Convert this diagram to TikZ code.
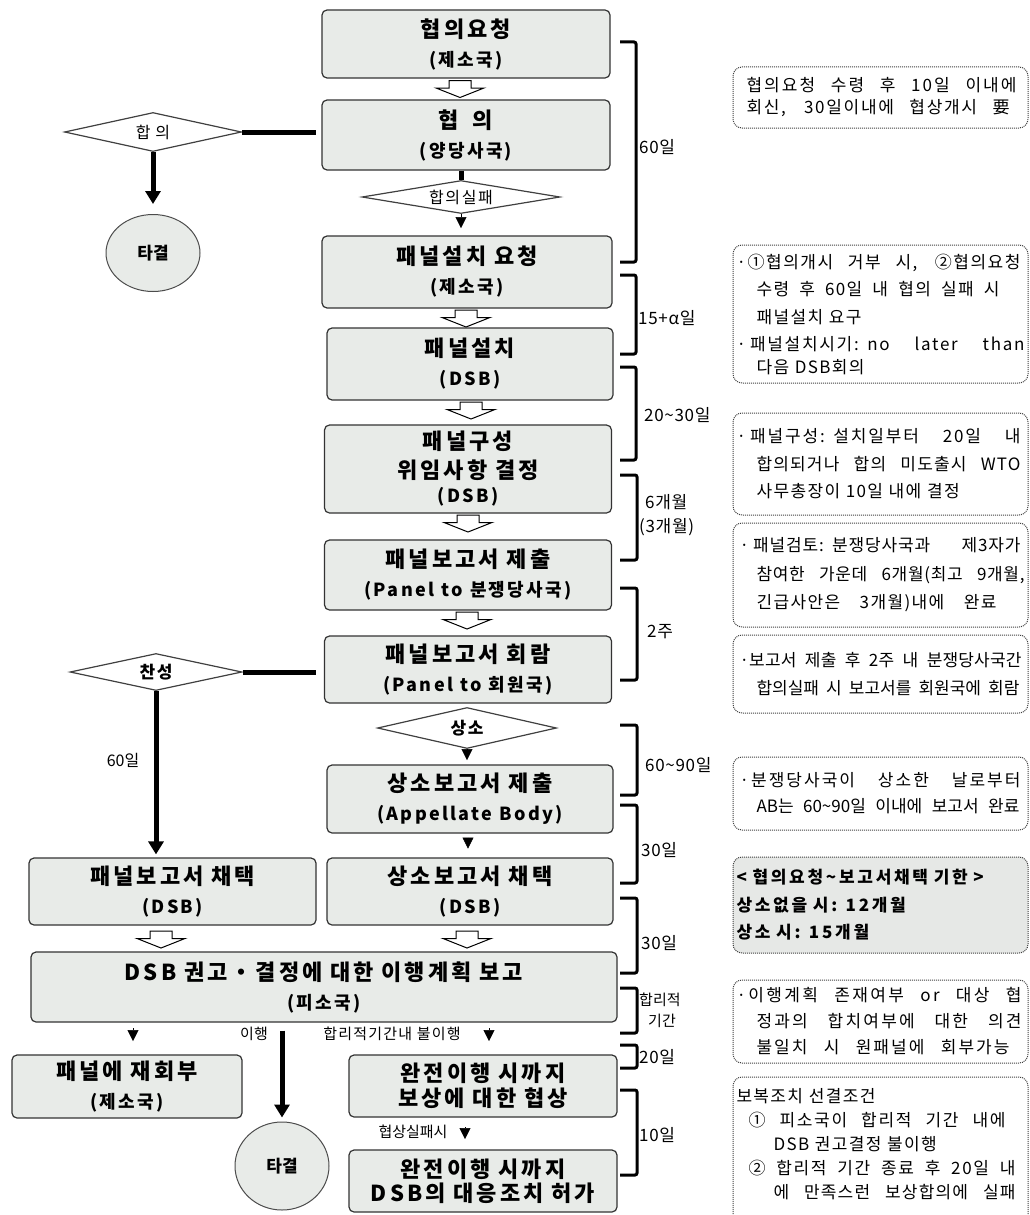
\documentclass[tikz,border=0pt]{standalone}
\usepackage{fontspec}
\setmainfont{Noto Sans CJK KR}
\usetikzlibrary{shapes.geometric,arrows.meta,calc}
\definecolor{boxgray}{HTML}{E8EBE8}
\definecolor{notegray}{HTML}{E6E8E6}
\newcommand\tf{\fontsize{22}{29}\selectfont\bfseries\addfontfeature{LetterSpace=14}\spaceskip=.35em\relax}
\newcommand\stf{\fontsize{18}{29}\selectfont\bfseries\addfontfeature{LetterSpace=13}\spaceskip=.4em\relax}
\newcommand\nfs[1]{\fontsize{17}{#1}\selectfont\addfontfeature{LetterSpace=8}}
\newcommand\nbf{\fontsize{17}{27.5}\selectfont\bfseries\addfontfeature{LetterSpace=16}\spaceskip=.35em\relax}
\newcommand\jl[4][8]{\hspace*{#2pt}\makebox[#3pt][s]{\addfontfeature{LetterSpace=#1}\spaceskip=.25em plus 1fil minus .17em\relax #4}}
\newcommand\il[2]{\hspace*{#1pt}#2}
\newcommand\bul{·\hspace{4pt}}
\begin{document}
\begin{tikzpicture}[x=1pt,y=-1pt,
 mbox/.style={draw=black!80, fill=boxgray, line width=1.2pt, rounded corners=5pt, align=center, inner sep=0pt, font=\tf},
 note/.style={draw=black!75, densely dotted, line width=1pt, rounded corners=9pt, minimum width=295pt, text width=288pt, inner sep=0pt, align=left},
 diam/.style={diamond, aspect=5, draw=black!75, line width=1.2pt, fill=white, inner sep=0pt},
 done/.style={ellipse, draw=black!70, line width=1pt, fill=boxgray, inner sep=0pt, font=\fontsize{17}{20}\selectfont\bfseries},
 thickline/.style={line width=5pt},
 thickarrow/.style={line width=5pt, -{Triangle[width=15pt,length=13pt]}},
 tri/.style={line width=0.5pt, -{Triangle[width=11pt,length=11pt]}},
 br/.style={line width=3pt, rounded corners=2pt},
 brl/.style={anchor=west, inner sep=0pt, font=\fontsize{17}{21}\selectfont\addfontfeature{LetterSpace=4}},
 lab/.style={inner sep=0pt, font=\fontsize{15}{18}\selectfont},
 oarrow/.pic={\draw[line width=1pt, fill=white, line join=miter] (-11,-8.5) -- (11,-8.5) -- (11,-1) -- (24,-1) -- (0,8.5) -- (-24,-1) -- (-11,-1) -- cycle;}
]
\useasboundingbox (0,0) rectangle (1030,1215);
\clip (0,0) rectangle (1030,1215);

% main column
\node[mbox, minimum width=288pt, minimum height=68pt] (b1) at (466,44) {협의요청\\\stf (제소국)};
\node[mbox, minimum width=288pt, minimum height=70pt] (b2) at (466,135) {협\hspace{14pt}의\\\stf (양당사국)};
\node[mbox, minimum width=290pt, minimum height=72pt] (b3) at (467,272) {패널설치 요청\\\stf (제소국)};
\node[mbox, minimum width=286pt, minimum height=72pt] (b4) at (470,364) {패널설치\\\stf (DSB)};
\node[mbox, minimum width=287pt, minimum height=88pt] (b5) at (468,469) {패널구성\\위임사항 결정\\[-5pt]\stf (DSB)};
\node[mbox, minimum width=287pt, minimum height=70pt] (b6) at (468,575) {패널보고서 제출\\\stf (Panel to 분쟁당사국)};
\node[mbox, minimum width=287pt, minimum height=67pt] (b7) at (468,669.5) {패널보고서 회람\\\stf (Panel to 회원국)};
\node[mbox, minimum width=286pt, minimum height=68pt] (b8) at (470,799) {상소보고서 제출\\\stf (Appellate Body)};
\node[mbox, minimum width=286pt, minimum height=67pt] (b9) at (470,891.5) {상소보고서 채택\\\stf (DSB)};
\node[mbox, minimum width=287pt, minimum height=67pt] (bL) at (172.5,891.5) {패널보고서 채택\\\stf (DSB)};
\node[mbox, minimum width=586pt, minimum height=70pt] (b10) at (324,987) {DSB 권고・결정에 대한 이행계획 보고\\\stf (피소국)};
\node[mbox, minimum width=230pt, minimum height=63pt] (b11) at (127,1086.5) {패널에 재회부\\\stf (제소국)};
\node[mbox, minimum width=268pt, minimum height=62pt] (b12) at (483,1086) {완전이행 시까지\\[-4pt]보상에 대한 협상};
\node[mbox, minimum width=268pt, minimum height=62pt] (b13) at (483,1181) {완전이행 시까지\\[-5pt]DSB의 대응조치 허가};

% diamonds and end circles
\node[diam, minimum width=177pt, minimum height=39pt, font=\fontsize{16}{18}\selectfont] (d1) at (153,132) {합\hspace{5pt}의};
\node[diam, aspect=6, minimum width=198pt, minimum height=33pt, font=\fontsize{16}{18}\selectfont\addfontfeature{LetterSpace=10}] (d2) at (461,197) {합의실패};
\node[diam, minimum width=172pt, minimum height=37pt, font=\fontsize{17}{20}\selectfont\bfseries\addfontfeature{LetterSpace=10}] (d3) at (156,672) {찬성};
\node[diam, minimum width=179pt, minimum height=41pt, font=\fontsize{17}{20}\selectfont\bfseries\addfontfeature{LetterSpace=10}] (d4) at (467,728) {상소};
\node[done, minimum width=94pt, minimum height=77pt] (t1) at (153,253) {타결};
\node[done, minimum width=94pt, minimum height=88pt] (t2) at (282,1166) {타결};

% open arrows
\pic at (460,89) {oarrow};
\pic at (466,318.5) {oarrow};
\pic at (471,410.5) {oarrow};
\pic at (468,523.5) {oarrow};
\pic at (467,620.5) {oarrow};
\pic at (161,939.5) {oarrow};
\pic at (467,939.5) {oarrow};

% connectors
\draw[thickline, shorten >=5pt] (d1.east) -- (b2.west |- d1.east);
\draw[thickarrow, shorten >=10pt] (d1.south) -- (t1.north);
\draw[thickline] (d2.north |- b2.south) -- (d2.north);
\draw[tri] (d2.south) -- ++(0,14);
\draw[thickline, shorten >=8pt] (d3.east) -- (b7.west |- d3.east);
\draw[thickarrow, shorten >=3pt] (d3.south) -- (d3.south |- bL.north);
\draw[tri] (d4.south) -- ++(0,11);
\draw[tri] ($(b8.south)+(-2,4)$) -- ++(0,11);
\node[lab, font=\fontsize{16}{18}\selectfont] (l0) at (123,760) {60일};

% bottom part
\draw[tri] (133,1028) -- ++(0,13);
\node[lab] (l1) at (254,1034) {이행};
\draw[thickarrow, shorten <=8pt, shorten >=4pt] (b10.south -| t2.north) -- (t2.north);
\node[lab, font=\fontsize{15}{18}\selectfont\addfontfeature{LetterSpace=8}] (l2) at (392,1034) {합리적기간내 불이행};
\draw[tri] (489,1028) -- ++(0,13);
\node[lab] (l3) at (413,1132) {협상실패시};
\draw[tri] (465,1127) -- ++(0,12);

% brackets
\draw[br] (620,42) -- (636,42) -- (636,262) -- (620,262);
\node[brl] at (639,147) {60일};
\draw[br] (620,275) -- (636,275) -- (636,354) -- (620,354);
\node[brl] at (638,318) {15+α일};
\draw[br] (620,367) -- (636,367) -- (636,460) -- (620,460);
\node[brl] at (644,415) {20\textasciitilde 30일};
\draw[br] (620,475) -- (637,475) -- (637,560) -- (620,560);
\node[brl] at (645,502) {6개월};
\node[brl] at (639,527) {(3개월)};
\draw[br] (620,588) -- (637,588) -- (637,680) -- (620,680);
\node[brl] at (647,632) {2주};
\draw[br] (620,725) -- (637,725) -- (637,795) -- (620,795);
\node[brl] at (645,765) {60\textasciitilde 90일};
\draw[br] (620,805) -- (637,805) -- (637,883) -- (620,883);
\node[brl] at (641,850) {30일};
\draw[br] (620,898) -- (637,898) -- (637,973) -- (620,973);
\node[brl] at (641,943) {30일};
\draw[br] (620,988) -- (637,988) -- (637,1033) -- (620,1033);
\node[brl, font=\fontsize{15}{18}\selectfont] at (639,1000) {합리적};
\node[brl, font=\fontsize{15}{18}\selectfont] at (648,1021) {기간};
\draw[br] (620,1045) -- (637,1045) -- (637,1068) -- (620,1068);
\node[brl] at (639,1057) {20일};
\draw[br] (620,1090) -- (637,1090) -- (637,1175) -- (620,1175);
\node[brl] at (639,1135) {10일};

% notes
\node[note, minimum height=61pt, font=\nfs{22}] (n1) at (880.5,97.5) {\jl[12]{10}{270}{협의요청 수령 후 10일 이내에}\\\jl[10]{10}{263}{회신, 30일이내에 협상개시 要}};
\node[note, minimum height=138pt, font=\nfs{27.5}] (n2) at (880.5,314) {\jl[9]{0}{284}{·①협의개시 거부 시, ②협의요청}\\\jl[8]{20}{243}{수령 후 60일 내 협의 실패 시}\\\il{20}{패널설치 요구}\\\jl[10]{0}{288}{\bul 패널설치시기: no later than}\\[-5pt]\il{20}{다음 DSB회의}};
\node[note, minimum height=102pt, font=\nfs{27.5}] (n3) at (880.5,464) {\jl[11]{0}{284}{\bul 패널구성: 설치일부터 20일 내}\\\jl[7]{20}{264}{합의되거나 합의 미도출시 WTO}\\\il{20}{사무총장이 10일 내에 결정}};
\node[note, minimum height=104pt, font=\nfs{28.5}] (n4) at (880.5,575) {\jl[5]{3}{281}{\bul 패널검토: 분쟁당사국과 제3자가}\\\jl[4]{20}{268}{참여한 가운데 6개월(최고 9개월,}\\\jl[8]{20}{240}{긴급사안은 3개월)내에 완료}};
\node[note, minimum height=78pt, font=\nfs{28}] (n5) at (880.5,674) {\jl[1]{3}{282}{·보고서 제출 후 2주 내 분쟁당사국간}\\\jl[0]{20}{263}{합의실패 시 보고서를 회원국에 회람}};
\node[note, minimum height=73pt, font=\nfs{26}] (n6) at (880.5,793.5) {\jl[12]{3}{281}{·분쟁당사국이 상소한 날로부터}\\\jl[0]{20}{263}{AB는 60\textasciitilde 90일 이내에 보고서 완료}};
\node[note, fill=notegray, minimum height=96pt, font=\nbf] (n7) at (880.5,905) {< 협의요청\textasciitilde 보고서채택 기한 >\\상소없을 시: 12개월\\상소 시: 15개월};
\node[note, minimum height=83pt, font=\nfs{26}] (n8) at (880.5,1021.5) {\jl[14]{0}{285}{·이행계획 존재여부 or 대상 협}\\\jl[13]{20}{265}{정과의 합치여부에 대한 의견}\\\jl[12]{20}{253}{불일치 시 원패널에 회부가능}};
\node[note, minimum height=160pt, font=\nfs{24}] (n9) at (880.5,1157) {보복조치 선결조건\\\jl[10]{12}{257}{① 피소국이 합리적 기간 내에}\\\il{37}{DSB 권고결정 불이행}\\\jl[10]{12}{267}{② 합리적 기간 종료 후 20일 내}\\\jl[7]{37}{242}{에 만족스런 보상합의에 실패}\\[4pt]\mbox{}};
\end{tikzpicture}
\end{document}
